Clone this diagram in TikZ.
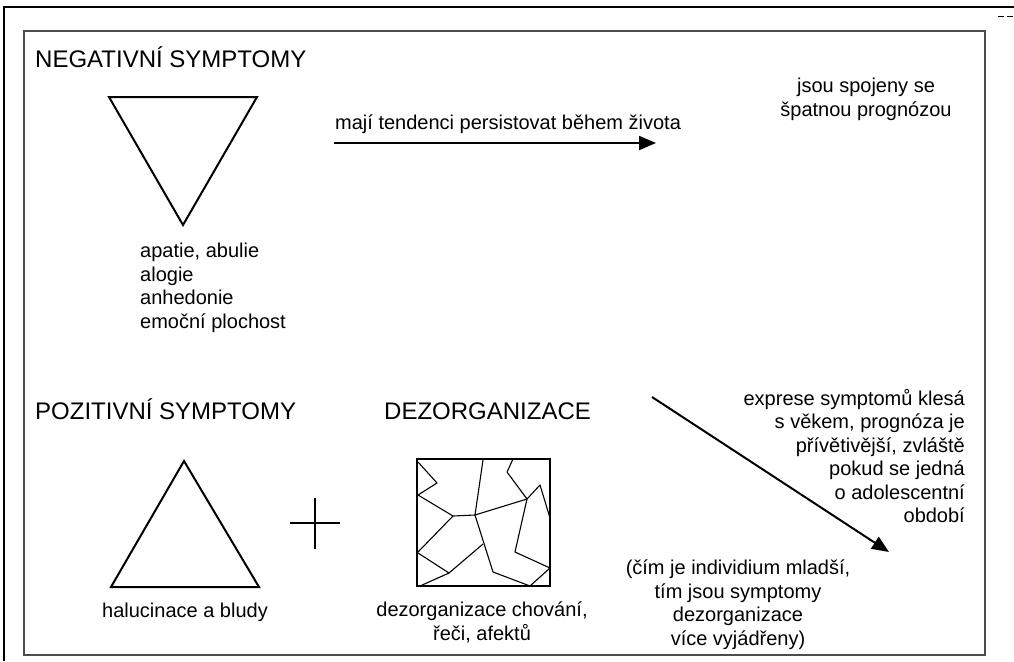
\documentclass[tikz,border=0pt]{standalone}
\usepackage{fontspec}
\setmainfont{Liberation Sans}
\usetikzlibrary{arrows.meta}
\begin{document}
\begin{tikzpicture}[x=1pt,y=-1pt,
  body/.style={font=\fontsize{20}{23.5}\selectfont, inner sep=0pt},
  ttl/.style={font=\fontsize{24}{28}\selectfont, inner sep=0pt, anchor=base west},
  fig/.style={line width=2pt, line join=miter},
  crack/.style={line width=1.1pt, line join=round},
  arr/.style={line width=2pt, -{Triangle[length=17pt,width=14pt]}},
  frame/.style={line width=1.4pt}]
\useasboundingbox (0,0) rectangle (1014,661);
% frames
\draw[frame] (4,661) -- (4,7) -- (1014,7);
\draw[line width=1.2pt, black!70] (24,31) rectangle (985,655);
\draw[line width=1pt, dash pattern=on 6pt off 3pt] (998,17) -- (1014,17);
% titles
\node[ttl] (neg) at (35,67) {NEGATIVNÍ SYMPTOMY};
\node[ttl] (poz) at (35,419) {POZITIVNÍ SYMPTOMY};
\node[ttl] (dez) at (384,419) {DEZORGANIZACE};
% shapes
\draw[fig] (109,97) -- (257,97) -- (183,225) -- cycle;
\draw[fig] (184,461) -- (259,587) -- (111,587) -- cycle;
\draw[line width=1.5pt] (290,523) -- (340,523) (315,498) -- (315,549);
\draw[line width=2.6pt] (417,459) rectangle (550,586);
\draw[crack] (418,462) -- (437,483) -- (418,495) -- (453,516) -- (475,515);
\draw[crack] (453,516) -- (418,552);
\draw[crack] (483,460) -- (475,515) -- (527,499);
\draw[crack] (475,515) -- (493,572) -- (530,586) -- (550,568) -- (515,552) -- (527,499);
\draw[crack] (527,499) -- (540,485) -- (550,518);
\draw[crack] (527,499) -- (507,472) -- (513,459);
\draw[crack] (418,553) -- (449,573) -- (420,586);
\draw[crack] (449,573) -- (483,544);
% texts
\node[body, anchor=north west, align=left] (negl) at (140,243) {apatie, abulie\\alogie\\anhedonie\\emoční plochost};
\node[body, anchor=base west] (pers) at (335,129) {mají tendenci persistovat během života};
\node[body, anchor=north, align=center] (prog) at (866,78) {jsou spojeny se\\špatnou prognózou};
\node[body, anchor=north east, align=right] (expr) at (965,389) {exprese symptomů klesá\\s věkem, prognóza je\\přívětivější, zvláště\\pokud se jedná\\o adolescentní\\období};
\node[body, anchor=north, align=center] (mlad) at (738,560) {(čím je individium mladší,\\tím jsou symptomy\\dezorganizace\\více vyjádřeny)};
\node[body, anchor=base] (hal) at (185,617) {halucinace a bludy};
\node[body, anchor=north, align=center] (dezt) at (482,602) {dezorganizace chování,\\řeči, afektů};
% arrows
\coordinate (a1s) at (334,143);
\coordinate (a1e) at (656,143);
\draw[arr] (a1s) -- (a1e);
\coordinate (a2s) at (652,397);
\coordinate (a2e) at (889,552);
\draw[arr] (a2s) -- (a2e);
\end{tikzpicture}
\end{document}
